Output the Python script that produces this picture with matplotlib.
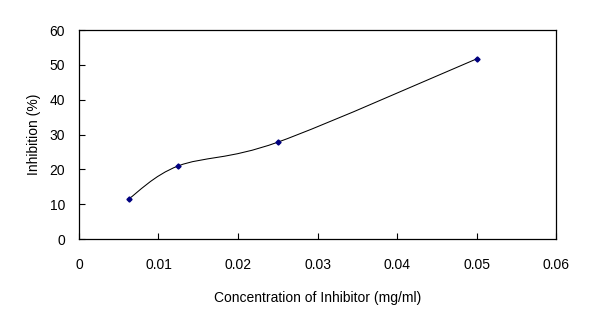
import numpy as np
import matplotlib
matplotlib.use("Agg")
import matplotlib.pyplot as plt
from matplotlib.path import Path
from matplotlib.patches import PathPatch

plt.rcParams['font.family'] = ['Liberation Sans', 'DejaVu Sans']

# data
conc = [0.00625, 0.0125, 0.025, 0.05]
inhibition = [11.5, 21.0, 27.8, 51.7]

x_ticks = [0, 0.01, 0.02, 0.03, 0.04, 0.05, 0.06]
x_tick_labels = ["0", "0.01", "0.02", "0.03", "0.04", "0.05", "0.06"]
y_ticks = [0, 10, 20, 30, 40, 50, 60]


def smooth_path(xs, ys, t=1/6):
    # Excel-like smoothed line: cubic bezier segments (Catmull-Rom control points)
    pts = np.column_stack([xs, ys])
    n = len(pts)
    verts = [pts[0]]
    codes = [Path.MOVETO]
    for i in range(n - 1):
        p0 = pts[i - 1] if i > 0 else pts[i]
        p1 = pts[i]
        p2 = pts[i + 1]
        p3 = pts[i + 2] if i + 2 < n else pts[i + 1]
        c1 = p1 + (p2 - p0) * t
        c2 = p2 - (p3 - p1) * t
        verts += [c1, c2, p2]
        codes += [Path.CURVE4] * 3
    return Path(verts, codes)


fig = plt.figure(figsize=(5.89, 3.28), dpi=100)
ax = fig.add_axes([0.1341, 0.2713, 0.8099, 0.6372])

ax.add_patch(PathPatch(smooth_path(conc, inhibition), fill=False,
                       edgecolor='black', lw=0.75))
ax.plot(conc, inhibition, ls='none', marker='D', ms=2.6,
        color='#000080', mec='#000080')

ax.set_xlim(0, 0.06)
ax.set_ylim(0, 60)
ax.set_xticks(x_ticks)
ax.set_xticklabels(x_tick_labels)
ax.set_yticks(y_ticks)
ax.tick_params(direction='in', length=4, width=0.8, labelsize=10)
ax.tick_params(axis='x', pad=14)
ax.tick_params(axis='y', pad=10)
for s in ax.spines.values():
    s.set_linewidth(0.9)

ax.set_xlabel("Concentration of Inhibitor (mg/ml)", fontsize=10, labelpad=13)
ax.set_ylabel("Inhibition (%)", fontsize=10, labelpad=6)

fig.savefig("out.png", dpi=100)
